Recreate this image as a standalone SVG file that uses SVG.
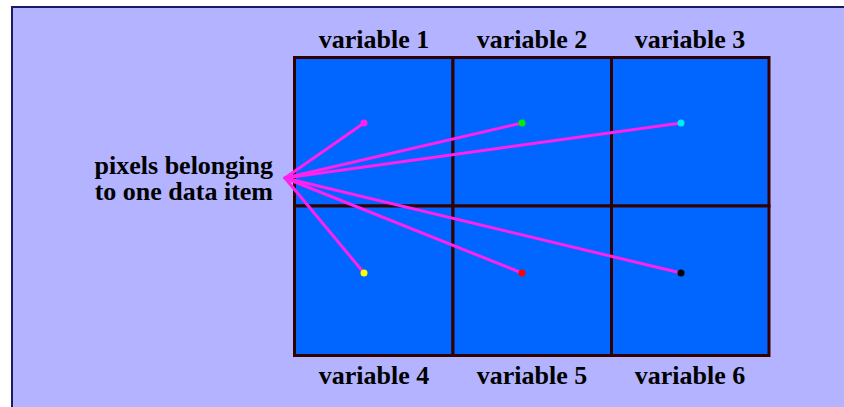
<svg xmlns="http://www.w3.org/2000/svg" width="844" height="407" viewBox="0 0 844 407">
<style>
.lbl{font-family:"Liberation Serif","Times New Roman",serif;font-weight:bold;font-size:26px;fill:#000;}
.cell{fill:#0066ff;stroke:#330000;stroke-width:3;}
.conn{stroke:#ff22ee;stroke-width:3;stroke-linecap:round;fill:none;}
</style>
<rect x="0" y="0" width="844" height="407" fill="#ffffff"/>
<rect x="12" y="7" width="834" height="402" fill="#b3b3ff" stroke="#1a1a66" stroke-width="2"/>
<g id="grid">
<rect class="cell" x="294.5" y="57.5" width="158.5" height="148.5"/>
<rect class="cell" x="453" y="57.5" width="158.5" height="148.5"/>
<rect class="cell" x="611.5" y="57.5" width="157.5" height="148.5"/>
<rect class="cell" x="294.5" y="206" width="158.5" height="149.5"/>
<rect class="cell" x="453" y="206" width="158.5" height="149.5"/>
<rect class="cell" x="611.5" y="206" width="157.5" height="149.5"/>
</g>
<g id="labels">
<text class="lbl" x="374" y="48" text-anchor="middle">variable 1</text>
<text class="lbl" x="532" y="48" text-anchor="middle">variable 2</text>
<text class="lbl" x="690" y="48" text-anchor="middle">variable 3</text>
<text class="lbl" x="374" y="384" text-anchor="middle">variable 4</text>
<text class="lbl" x="532" y="384" text-anchor="middle">variable 5</text>
<text class="lbl" x="690" y="384" text-anchor="middle">variable 6</text>
</g>
<g id="pixel-label">
<text class="lbl" x="273" y="174" text-anchor="end">pixels belonging</text>
<text class="lbl" x="273" y="200" text-anchor="end">to one data item</text>
</g>
<g id="connectors">
<line class="conn" x1="285" y1="178" x2="364" y2="123"/>
<line class="conn" x1="285" y1="178" x2="522" y2="123"/>
<line class="conn" x1="285" y1="178" x2="681" y2="123"/>
<line class="conn" x1="285" y1="178" x2="364" y2="273"/>
<line class="conn" x1="285" y1="178" x2="522" y2="273"/>
<line class="conn" x1="285" y1="178" x2="681" y2="273"/>
</g>
<g id="pixels">
<circle id="p1" cx="364" cy="123" r="3.5" fill="#ff22ee"/>
<circle id="p2" cx="522" cy="123" r="3.5" fill="#00ee00"/>
<circle id="p3" cx="681" cy="123" r="3.5" fill="#00eeee"/>
<circle id="p4" cx="364" cy="273" r="3.5" fill="#ffff00"/>
<circle id="p5" cx="522" cy="273" r="3.5" fill="#ff0000"/>
<circle id="p6" cx="681" cy="273" r="3.5" fill="#000000"/>
</g>
</svg>
